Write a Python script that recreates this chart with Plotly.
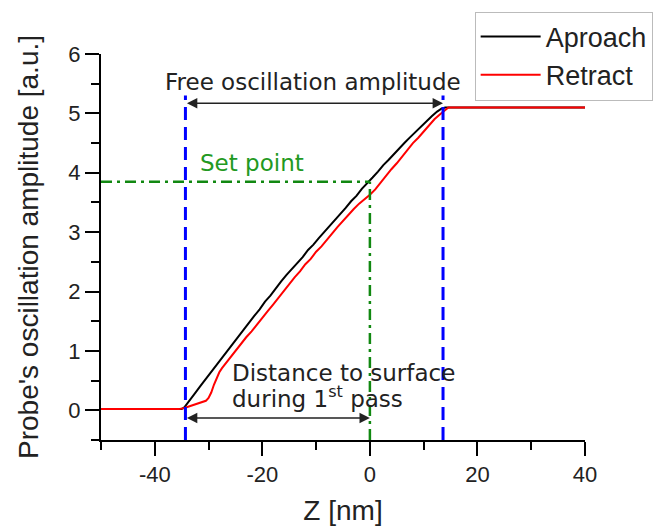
import plotly.graph_objects as go

# ---- data ----
approach_z = [-50, -42, -35.0, -34.5, -33.5, -32.5, -31.5, -30.5, -29.5, -28.5, -27.5, -26.5,
              -25.5, -24.5, -23.5, -22.5, -21.5, -20.5, -19.5, -18.5, -17.5, -16.5, -15.5,
              -14.5, -13.5, -12.5, -11.5, -10.5, -9.5, -8.5, -7.5, -6.5, -5.5, -4.5, -3.5,
              -2.5, -1.5, -0.5, 0.5, 1.5, 2.5, 3.5, 4.5, 5.5, 6.5, 7.5, 8.5, 9.5, 10.5,
              11.5, 12.5, 13.3, 14.0, 20, 30, 40]
approach_a = [0.02, 0.02, 0.02, 0.05, 0.18, 0.29, 0.41, 0.53, 0.65, 0.76, 0.89, 1.00,
              1.13, 1.23, 1.36, 1.47, 1.59, 1.70, 1.83, 1.93, 2.06, 2.17, 2.28,
              2.38, 2.49, 2.58, 2.70, 2.79, 2.90, 3.00, 3.11, 3.20, 3.31, 3.41, 3.52,
              3.61, 3.73, 3.82, 3.92, 4.02, 4.13, 4.22, 4.32, 4.41, 4.51, 4.60, 4.69, 4.78, 4.87,
              4.95, 5.03, 5.08, 5.10, 5.10, 5.10, 5.10]

retract_z = [-50, -40, -35.5, -34.5, -33.5, -32.5, -31.5, -30.5, -30.0, -29.5, -29.0, -28.5,
             -28.0, -27.5, -27.0, -26.5, -26.0, -25.0, -24.0, -23.0, -22.0, -21.0, -20.0,
             -19.0, -18.0, -17.0, -16.0, -15.0, -14.0, -13.0, -12.0, -11.0, -10.0, -9.0,
             -8.0, -7.0, -6.0, -5.0, -4.0, -3.0, -2.0, -1.0, 0.0, 1.0, 2.0, 3.0, 4.0, 5.0,
             6.0, 7.0, 8.0, 9.0, 10.0, 11.0, 12.0, 13.0, 14.0, 14.6, 20, 30, 40]
retract_a = [0.02, 0.02, 0.02, 0.04, 0.07, 0.09, 0.12, 0.16, 0.21, 0.30, 0.43, 0.55,
             0.64, 0.71, 0.77, 0.83, 0.89, 1.01, 1.11, 1.23, 1.33, 1.45, 1.55,
             1.67, 1.78, 1.90, 2.02, 2.12, 2.24, 2.34, 2.46, 2.55, 2.67, 2.76,
             2.88, 2.98, 3.09, 3.19, 3.30, 3.39, 3.48, 3.55, 3.63, 3.72, 3.84, 3.94, 4.06, 4.16,
             4.28, 4.38, 4.50, 4.59, 4.70, 4.79, 4.90, 4.98, 5.06, 5.10, 5.10, 5.10, 5.10]

contact_z = -34.3        # left blue dashed line
free_z = 13.6            # right blue dashed line
blue_top = 5.3
setpoint_a = 3.85        # set point amplitude
setpoint_z = 0.0
free_arrow_a = 5.17
dist_arrow_a = -0.13

x_range = [-50, 40]
y_range = [-0.5, 6]
x_ticks = [-40, -20, 0, 20, 40]
y_ticks = [0, 1, 2, 3, 4, 5, 6]

TICKFONT = dict(family="Liberation Sans, Arial, sans-serif", size=22, color="#222")
TITLEFONT = dict(family="Liberation Sans, Arial, sans-serif", size=28, color="#222")
ANNFONT = "DejaVu Sans, Verdana, sans-serif"

fig = go.Figure()
fig.add_trace(go.Scatter(x=approach_z, y=approach_a, mode="lines", name="Aproach",
                         line=dict(color="black", width=2)))
fig.add_trace(go.Scatter(x=retract_z, y=retract_a, mode="lines", name="Retract",
                         line=dict(color="red", width=2)))

# blue dashed verticals
for zz in (contact_z, free_z):
    fig.add_shape(type="line", xref="x", yref="y", x0=zz, x1=zz, y0=y_range[0], y1=blue_top,
                  line=dict(color="#0000ff", width=3, dash="13px,7px"), layer="above")
# green dash-dot set point lines
fig.add_shape(type="line", xref="x", yref="y", x0=x_range[0], x1=setpoint_z,
              y0=setpoint_a, y1=setpoint_a,
              line=dict(color="#118811", width=2.5, dash="11px,5px,3px,5px"), layer="above")
fig.add_shape(type="line", xref="x", yref="y", x0=setpoint_z, x1=setpoint_z,
              y0=y_range[0], y1=setpoint_a,
              line=dict(color="#118811", width=2.5, dash="11px,5px,3px,5px"), layer="above")

# double-headed arrows
for (za, zb, aa) in ((contact_z, free_z, free_arrow_a), (contact_z, setpoint_z, dist_arrow_a)):
    fig.add_annotation(x=zb, y=aa, ax=za, ay=aa, xref="x", yref="y", axref="x", ayref="y",
                       text="", showarrow=True, arrowhead=2, arrowside="end+start",
                       arrowsize=1.3, arrowwidth=1.6, arrowcolor="#222",
                       standoff=0, startstandoff=0)

fig.add_annotation(x=-10.5, y=5.53, xref="x", yref="y", text="Free oscillation amplitude",
                   showarrow=False, font=dict(family=ANNFONT, size=23, color="#222"),
                   xanchor="center", yanchor="middle")
fig.add_annotation(x=-32.0, y=4.17, xref="x", yref="y", text="Set point",
                   showarrow=False, font=dict(family=ANNFONT, size=23, color="#229922"),
                   xanchor="left", yanchor="middle")
fig.add_annotation(x=-26.1, y=0.63, xref="x", yref="y", text="Distance to surface",
                   showarrow=False, font=dict(family=ANNFONT, size=23, color="#222"),
                   xanchor="left", yanchor="middle")
fig.add_annotation(x=-26.1, y=0.22, xref="x", yref="y", text="during 1<sup>st</sup> pass",
                   showarrow=False, font=dict(family=ANNFONT, size=23, color="#222"),
                   xanchor="left", yanchor="middle")

axis_common = dict(showline=True, linecolor="black", linewidth=2, ticks="outside",
                   ticklen=14, tickwidth=2, tickcolor="black", showgrid=False,
                   zeroline=False, tickfont=TICKFONT, mirror=False, automargin=False)

fig.update_layout(
    width=665, height=527,
    margin=dict(l=101, r=78, t=50, b=87, pad=0),
    plot_bgcolor="white", paper_bgcolor="white",
    xaxis=dict(range=x_range, tickvals=x_ticks, ticktext=[str(v) for v in x_ticks],
               title=dict(text="Z [nm]", font=TITLEFONT, standoff=14),
               minor=dict(ticks="outside", ticklen=8, tickwidth=2, tickcolor="black", dtick=10,
                          tick0=0, showgrid=False),
               **axis_common),
    yaxis=dict(range=y_range, tickvals=y_ticks, ticktext=[str(v) for v in y_ticks],
               title=dict(text="Probe's oscillation amplitude [a.u.]", font=TITLEFONT, standoff=22),
               minor=dict(ticks="outside", ticklen=8, tickwidth=2, tickcolor="black", dtick=0.5,
                          tick0=0, showgrid=False),
               **axis_common),
    legend=dict(x=0.772, y=1.11, xanchor="left", yanchor="top",
                font=dict(family="Liberation Sans, Arial, sans-serif", size=27, color="#222"),
                bgcolor="white", bordercolor="#bbbbbb", borderwidth=1,
                itemwidth=60, tracegroupgap=0),
    showlegend=True,
)

fig.write_html("out.html")
